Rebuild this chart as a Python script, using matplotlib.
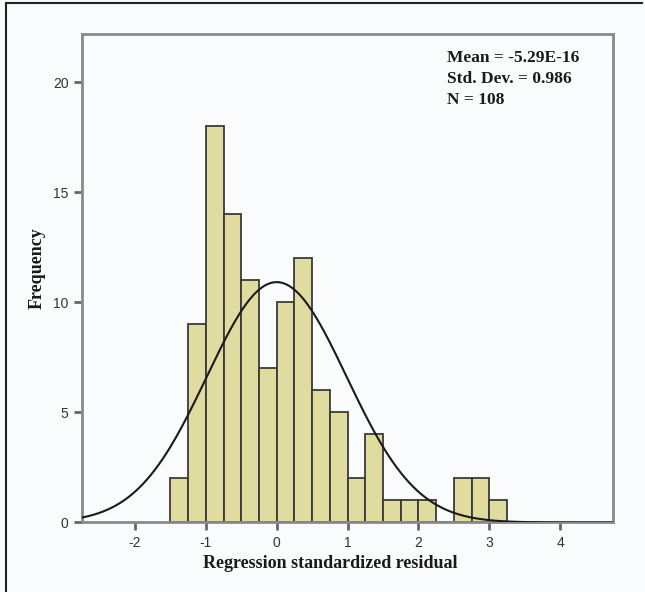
import numpy as np
import matplotlib.pyplot as plt
from matplotlib.lines import Line2D

# bin edges (width 0.25) and counts
bin_left = [-1.5, -1.25, -1.0, -0.75, -0.5, -0.25, 0.0, 0.25, 0.5, 0.75,
            1.0, 1.25, 1.5, 1.75, 2.0, 2.25, 2.5, 2.75, 3.0]
counts = [2, 9, 18, 14, 11, 7, 10, 12, 6, 5,
          2, 4, 1, 1, 1, 0, 2, 2, 1]
bin_width = 0.25

mean = -5.29e-16
std = 0.986
n = 108

xticks = [-2, -1, 0, 1, 2, 3, 4]
yticks = [0, 5, 10, 15, 20]

bg = '#fafbfd'
fig = plt.figure(figsize=(6.45, 5.92), dpi=100, facecolor=bg)
ax = fig.add_axes([0.1267, 0.1174, 0.8233, 0.8252], facecolor=bg)

# histogram bars
ax.bar(bin_left, counts, width=bin_width, align='edge',
       color='#e0dca0', edgecolor='#3a3a3a', linewidth=1.3, zorder=2)

# normal curve scaled to the counts
xs = np.linspace(-2.75, 4.74, 400)
ys = n * bin_width / (std * np.sqrt(2 * np.pi)) * np.exp(-0.5 * ((xs - mean) / std) ** 2)
ax.plot(xs, ys, color='#1a1a1a', linewidth=1.5, zorder=3)

ax.set_xlim(-2.75, 4.74)
ax.set_ylim(0, 22.2)
ax.set_xticks(xticks)
ax.set_yticks(yticks)
ax.set_xticklabels([str(t) for t in xticks])
ax.tick_params(direction='out', length=6, width=2, color='#666666',
               labelsize=10, labelcolor='#333333')
for lab in ax.get_xticklabels() + ax.get_yticklabels():
    lab.set_family('Liberation Sans')

for s in ax.spines.values():
    s.set_color('#8a8a8a')
    s.set_linewidth(2)

ax.set_xlabel('Regression standardized residual', family='Liberation Serif',
              fontweight='bold', fontsize=13, color='#1a1a1a')
ax.xaxis.set_label_coords(0.4676, -0.083)
ax.xaxis.label.set_va('center')
ax.set_ylabel('Frequency', family='Liberation Serif', fontweight='bold',
              fontsize=13, color='#1a1a1a')
ax.yaxis.set_label_coords(-0.084, 0.521)
ax.yaxis.label.set_va('center')

stats = 'Mean = -5.29E-16\nStd. Dev. = 0.986\nN = 108'
ax.text(0.688, 0.968, stats, transform=ax.transAxes, va='top', ha='left',
        family='Liberation Serif', fontweight='bold', fontsize=12.5,
        color='#1a1a1a', linespacing=1.42)

# outer frame lines (left and top only)
fig.add_artist(Line2D([0.0093, 0.0093], [0, 0.995], transform=fig.transFigure,
                      color='#222222', linewidth=1.5))
fig.add_artist(Line2D([0.0093, 0.995], [0.995, 0.995], transform=fig.transFigure,
                      color='#222222', linewidth=1.5))

fig.savefig('out.png', dpi=100, facecolor=bg)
